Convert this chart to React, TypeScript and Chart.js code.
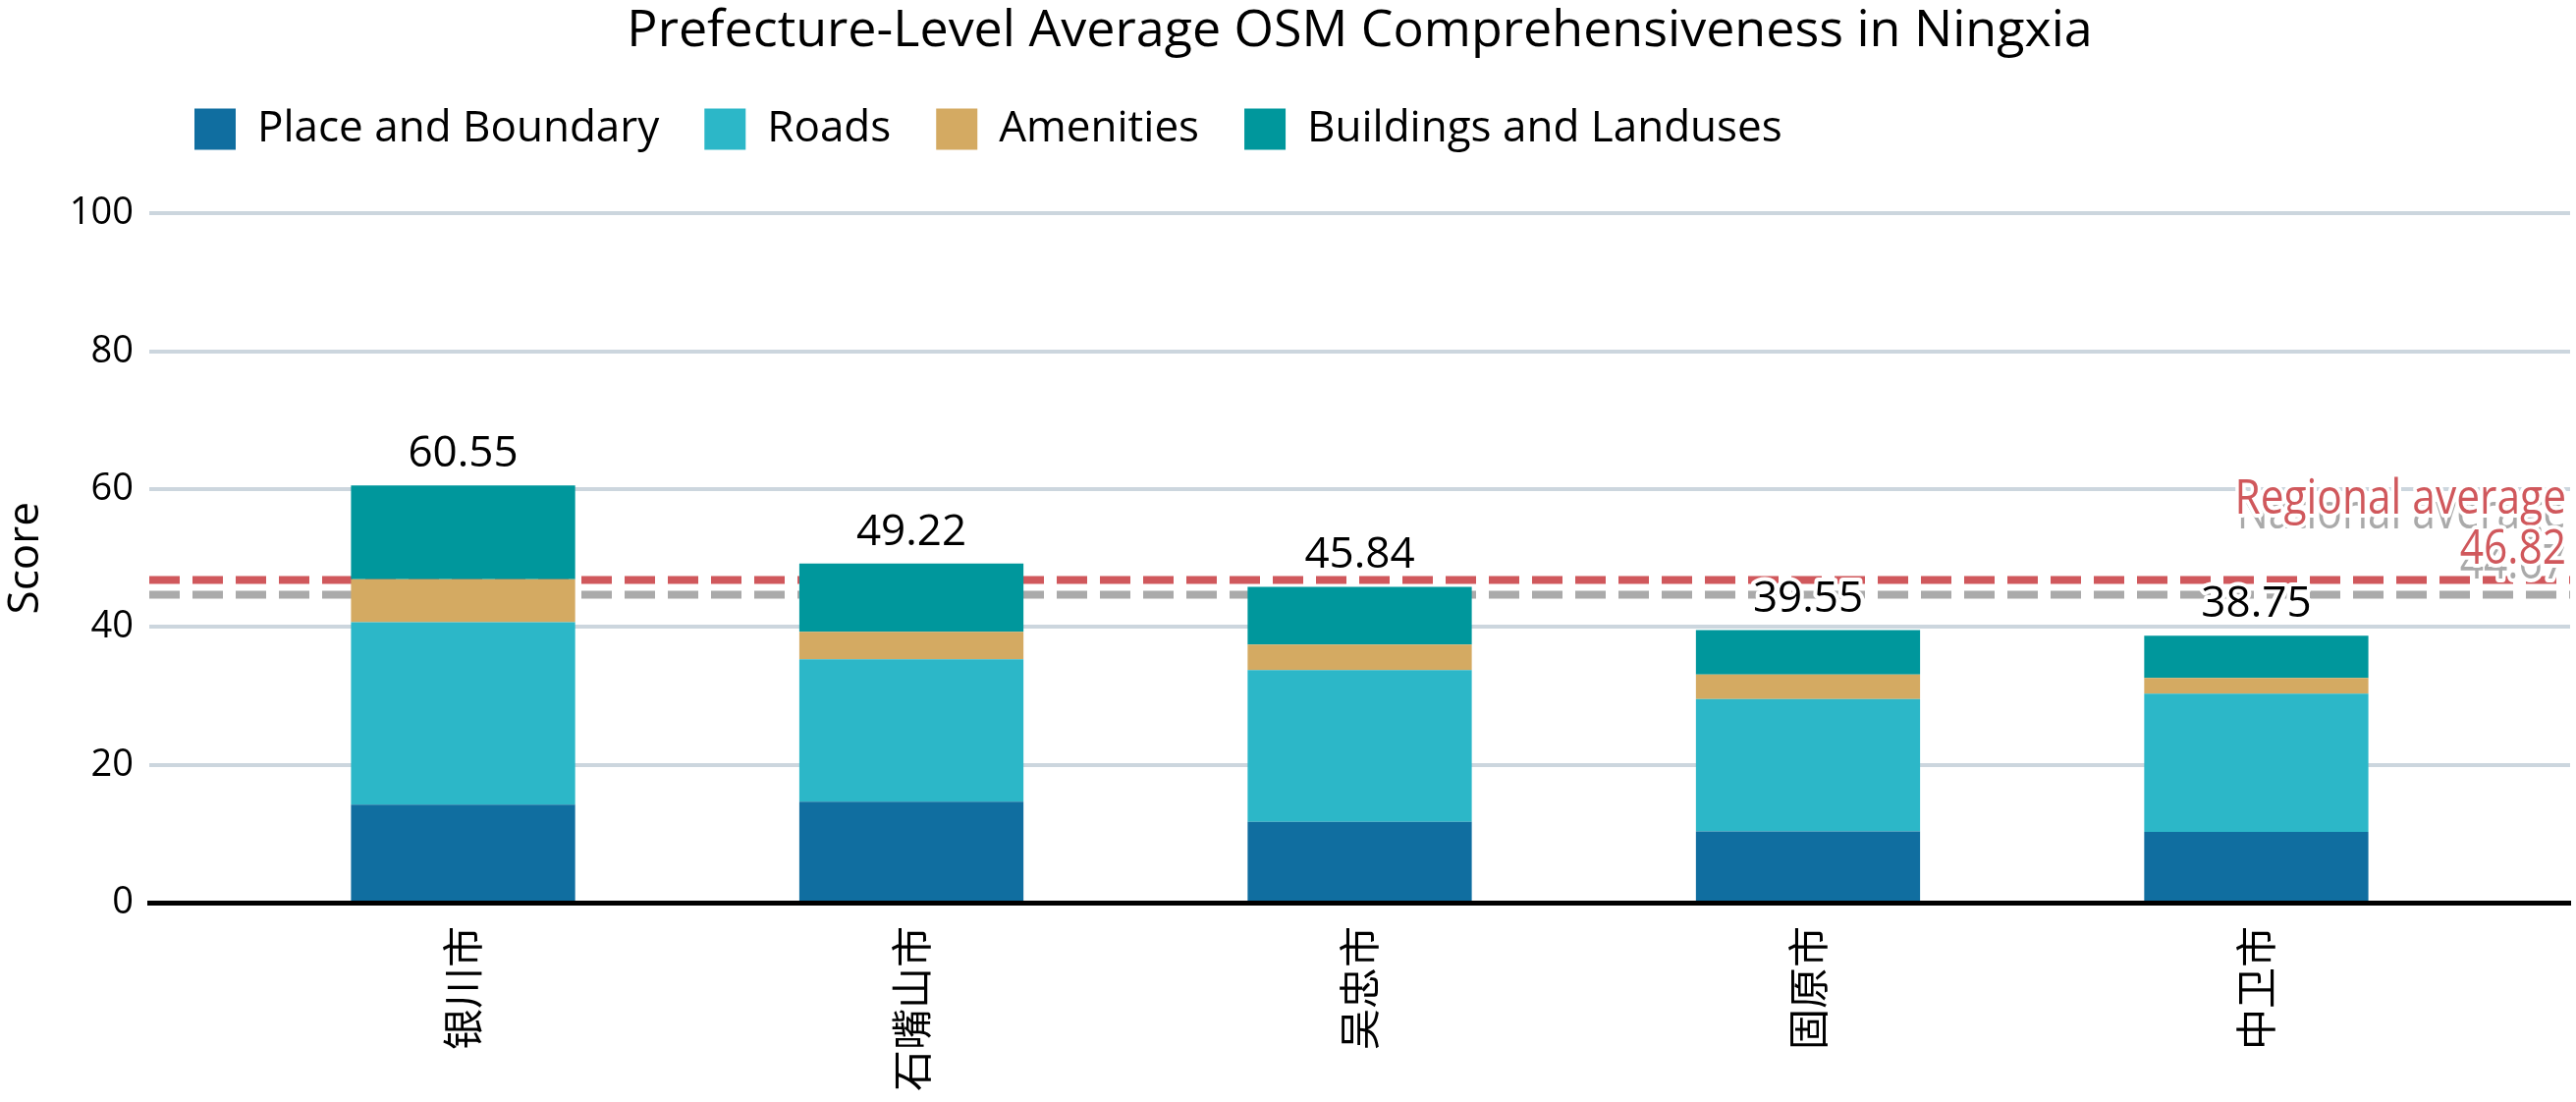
import { useEffect, useRef } from "react";
import { Chart, registerables } from "chart.js";

Chart.register(...registerables);

// ---- data ----
const cities = ["银川市", "石嘴山市", "吴忠市", "固原市", "中卫市"];
const placeBoundary = [14.21, 14.66, 11.71, 10.34, 10.25];
const roads = [26.49, 20.65, 22.03, 19.21, 20.07];
const amenities = [6.23, 3.99, 3.7, 3.56, 2.27];
const buildingsLanduses = [13.62, 9.92, 8.4, 6.44, 6.16];
const seriesNames = ["Place and Boundary", "Roads", "Amenities", "Buildings and Landuses"];
const regionalAverage = 46.82;
const nationalAverage = 44.67;
const referenceLabels = ["National average", "Regional average"];

const seriesColors = ["#106ea0", "#2cb7c8", "#d4aa62", "#00979c"];
const refColors = ["#aaaaaa", "#d0585c"];
const FONT = "'Open Sans', 'Noto Sans', sans-serif";
const CJK = "'Noto Sans CJK SC', 'Noto Sans', sans-serif";

function haloText(ctx: CanvasRenderingContext2D, text: string, x: number, y: number, sx = 1) {
  ctx.save();
  ctx.translate(x, y);
  ctx.scale(sx, 1);
  ctx.lineJoin = "round";
  ctx.strokeStyle = "#ffffff";
  ctx.lineWidth = 8;
  ctx.strokeText(text, 0, 0);
  ctx.fillText(text, 0, 0);
  ctx.restore();
}

const overlayPlugin = {
  id: "overlay",
  beforeInit(chart: any) {
    const legend = chart.legend;
    if (legend) {
      const origFit = legend.fit;
      legend.fit = function () {
        origFit.call(legend);
        this.height += 54;
      };
    }
  },
  beforeDatasetsDraw(chart: any) {
    const { ctx, chartArea, scales } = chart;
    const y = scales.y;
    const vals = [nationalAverage, regionalAverage];
    ctx.save();
    ctx.lineWidth = 8;
    ctx.setLineDash([31, 13]);
    vals.forEach((v, i) => {
      const py = y.getPixelForValue(v);
      ctx.strokeStyle = refColors[i];
      ctx.beginPath();
      ctx.moveTo(chartArea.left, py);
      ctx.lineTo(chartArea.right, py);
      ctx.stroke();
    });
    ctx.restore();
  },
  afterDatasetsDraw(chart: any) {
    const { ctx, chartArea, scales } = chart;
    const y = scales.y;
    const topMeta = chart.getDatasetMeta(3);
    ctx.save();
    ctx.font = `44px ${FONT}`;
    ctx.fillStyle = "#000000";
    ctx.textAlign = "center";
    ctx.textBaseline = "alphabetic";
    cities.forEach((_, i) => {
      const total = placeBoundary[i] + roads[i] + amenities[i] + buildingsLanduses[i];
      const bar = topMeta.data[i];
      const py = y.getPixelForValue(total);
      haloText(ctx, total.toFixed(2), bar.x, py - 19);
    });
    // annotations
    const vals = [nationalAverage, regionalAverage];
    ctx.font = `50px ${FONT}`;
    ctx.textAlign = "right";
    vals.forEach((v, i) => {
      const py = y.getPixelForValue(v);
      ctx.fillStyle = refColors[i];
      const xr = chartArea.right - 4;
      haloText(ctx, referenceLabels[i], xr, py - 68, 0.85);
      haloText(ctx, v.toFixed(2), xr, py - 17, 0.85);
    });
    ctx.restore();
  },
};

export default function App() {
  const canvasRef = useRef<HTMLCanvasElement | null>(null);

  useEffect(() => {
    document.body.style.margin = "0";
    const canvas = canvasRef.current;
    if (!canvas) return;
    const series = [placeBoundary, roads, amenities, buildingsLanduses];
    const chart = new Chart(canvas, {
      type: "bar",
      data: {
        datasets: series.map((arr, si) => ({
          label: seriesNames[si],
          data: arr.map((v, i) => ({ x: i, y: v })),
          backgroundColor: seriesColors[si],
          borderWidth: 0,
          categoryPercentage: 1,
          barPercentage: 0.5,
        })),
      },
      options: {
        responsive: false,
        animation: false,
        devicePixelRatio: 1,
        layout: { padding: { left: 0, right: 6, top: 0, bottom: 0 } },
        font: { family: FONT },
        plugins: {
          tooltip: { enabled: false },
          title: {
            display: true,
            text: "Prefecture-Level Average OSM Comprehensiveness in Ningxia",
            color: "#000000",
            fullSize: false,
            font: { family: FONT, size: 52, weight: "normal" },
            padding: { top: 1, bottom: 0 },
          },
          legend: {
            display: true,
            position: "top",
            align: "start",
            fullSize: false,
            labels: {
              boxWidth: 42,
              boxHeight: 42,
              padding: 46,
              color: "#000000",
              font: { family: FONT, size: 44 },
            },
          },
        },
        scales: {
          x: {
            type: "linear",
            min: -0.7,
            max: 4.7,
            offset: false,
            grace: 0,
            stacked: true,
            grid: { display: false, drawTicks: false, offset: false },
            border: { display: true, color: "#000000", width: 5 },
            afterDataLimits: (scale: any) => {
              scale.min = -0.7;
              scale.max = 4.7;
            },
            afterBuildTicks: (scale: any) => {
              scale.ticks = cities.map((_, i) => ({ value: i }));
            },
            afterFit: (scale: any) => {
              scale.height = 203;
            },
            ticks: {
              autoSkip: false,
              minRotation: 90,
              maxRotation: 90,
              padding: 24,
              color: "#000000",
              font: { family: CJK, size: 42 },
              callback: (v: any) => cities[Number(v)] ?? "",
            },
          },
          y: {
            min: 0,
            max: 100,
            stacked: true,
            afterFit: (scale: any) => {
              scale.width = 152;
            },
            grid: {
              color: (c: any) => (c.tick && c.tick.value === 0 ? "rgba(0,0,0,0)" : "#ccd6de"),
              lineWidth: 4,
              drawTicks: false,
            },
            border: { display: false },
            ticks: {
              stepSize: 20,
              padding: 16,
              color: "#000000",
              font: { family: FONT, size: 38 },
            },
            title: {
              display: true,
              text: "Score",
              color: "#000000",
              font: { family: FONT, size: 44 },
              padding: { top: 0, bottom: 0 },
            },
          },
        },
      },
      plugins: [overlayPlugin],
    } as any);
    return () => chart.destroy();
  }, []);

  return (
    <div style={{ position: "absolute", left: 0, top: 0, width: 2623, height: 1122 }}>
      <canvas ref={canvasRef} width={2623} height={1122} style={{ display: "block" }} />
    </div>
  );
}
